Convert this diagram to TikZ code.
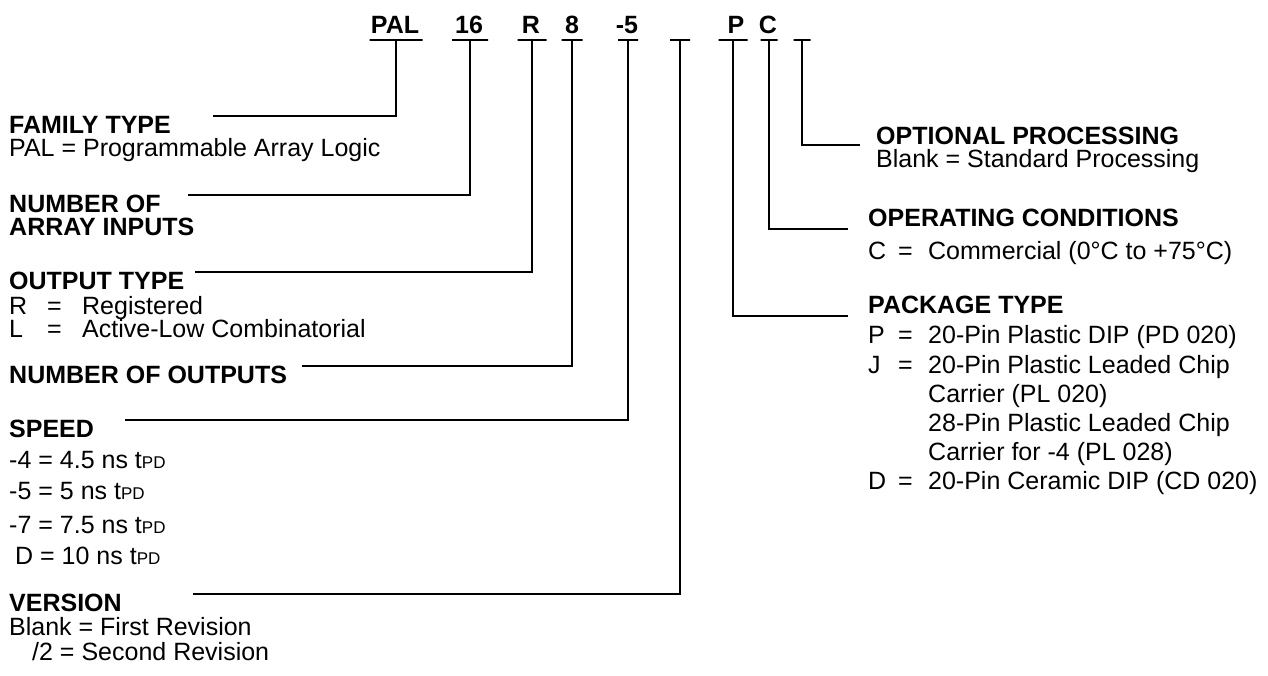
\documentclass[tikz,border=0pt]{standalone}
\usepackage{fontspec}
\setmainfont{Liberation Sans}
\begin{document}
\begin{tikzpicture}[x=1pt,y=-1pt,
  lbl/.style={anchor=base west,inner sep=0pt,font=\fontsize{25}{25}\selectfont},
  hdr/.style={anchor=base west,inner sep=0pt,font=\fontsize{25}{25}\selectfont\bfseries},
  code/.style={anchor=base,inner sep=0pt,font=\fontsize{25}{25}\selectfont\bfseries},
  bar/.style={draw,line width=2.8pt,minimum width=#1,minimum height=0pt,inner sep=0pt},
  conn/.style={line width=2pt}]
\useasboundingbox (0,0) rectangle (1268,675);
\newcommand{\tpd}{t{\fontsize{17}{17}\selectfont PD}}
\newcommand{\lrow}[2]{\makebox[38pt][l]{#1}\makebox[35pt][l]{=}#2}
\newcommand{\rrow}[2]{\makebox[30pt][l]{#1}\makebox[30pt][l]{=}#2}
% top code letters
\node[code] (cPAL) at (395,33) {PAL};
\node[code] (c16) at (469,33) {16};
\node[code] (cR) at (531,33) {R};
\node[code] (c8) at (572,33) {8};
\node[code] (c5) at (627,33) {-5};
\node[code] (cP) at (736,33) {P};
\node[code] (cC) at (768,33) {C};
% bars
\node[bar=53pt] (bPAL) at (396,40) {};
\node[bar=36pt] (b16) at (470,40) {};
\node[bar=29pt] (bR) at (532,40) {};
\node[bar=21pt] (b8) at (572,40) {};
\node[bar=20pt] (b5) at (628,40) {};
\node[bar=20pt] (bV) at (680,40) {};
\node[bar=29pt] (bP) at (733,40) {};
\node[bar=17pt] (bC) at (769,40) {};
\node[bar=17pt] (bO) at (802,40) {};
% left texts
\node[hdr] (fam) at (9,133) {FAMILY TYPE};
\node[lbl] (fam1) at (9,156) {PAL = Programmable Array Logic};
\node[hdr] (num) at (9,212) {NUMBER OF};
\node[hdr] (num2) at (9,235) {ARRAY INPUTS};
\node[hdr] (out) at (9,289) {OUTPUT TYPE};
\node[lbl] (out1) at (9,314) {\lrow{R}{Registered}};
\node[lbl] (out2) at (9,337) {\lrow{L}{Active-Low Combinatorial}};
\node[hdr] (noo) at (9,383) {NUMBER OF OUTPUTS};
\node[hdr] (spd) at (9,437) {SPEED};
\node[lbl] (spd1) at (9,468) {-4 = 4.5 ns \tpd};
\node[lbl] (spd2) at (9,499) {-5 = 5 ns \tpd};
\node[lbl] (spd3) at (9,533) {-7 = 7.5 ns \tpd};
\node[lbl] (spd4) at (15,564) {D = 10 ns \tpd};
\node[hdr] (ver) at (9,611) {VERSION};
\node[lbl] (ver1) at (9,635) {Blank = First Revision};
\node[lbl] (ver2) at (32,660) {/2 = Second Revision};
% right texts
\node[hdr] (opt) at (876,144) {OPTIONAL PROCESSING};
\node[lbl] (opt1) at (876,167) {Blank = Standard Processing};
\node[hdr] (opc) at (868,226) {OPERATING CONDITIONS};
\node[lbl] (opc1) at (868,259) {\rrow{C}{Commercial (0°C to +75°C)}};
\node[hdr] (pkg) at (868,313) {PACKAGE TYPE};
\node[lbl] (pkg1) at (868,343) {\rrow{P}{20-Pin Plastic DIP (PD 020)}};
\node[lbl] (pkg2) at (868,373) {\rrow{J}{20-Pin Plastic Leaded Chip}};
\node[lbl] (pkg3) at (928,402) {Carrier (PL 020)};
\node[lbl] (pkg4) at (928,431) {28-Pin Plastic Leaded Chip};
\node[lbl] (pkg5) at (928,460) {Carrier for -4 (PL 028)};
\node[lbl] (pkg6) at (868,489) {\rrow{D}{20-Pin Ceramic DIP (CD 020)}};
% connectors
\draw[conn] (bPAL.south) |- ([xshift=42pt,yshift=8.5pt]fam.east);
\draw[conn] (b16.south) |- ([xshift=27pt,yshift=8.5pt]num.east);
\draw[conn] (bR.south) |- ([xshift=11pt,yshift=8.5pt]out.east);
\draw[conn] (b8.south) |- ([xshift=15pt,yshift=8.5pt]noo.east);
\draw[conn] (b5.south) |- ([xshift=31pt,yshift=8.5pt]spd.east);
\draw[conn] (bV.south) |- ([xshift=71pt,yshift=8.5pt]ver.east);
\draw[conn] (bP.south) |- ([xshift=-20pt,yshift=-12pt]pkg.west);
\draw[conn] (bC.south) |- ([xshift=-20pt,yshift=-12pt]opc.west);
\draw[conn] (bO.south) |- ([xshift=-16pt,yshift=-10pt]opt.west);
\end{tikzpicture}
\end{document}
